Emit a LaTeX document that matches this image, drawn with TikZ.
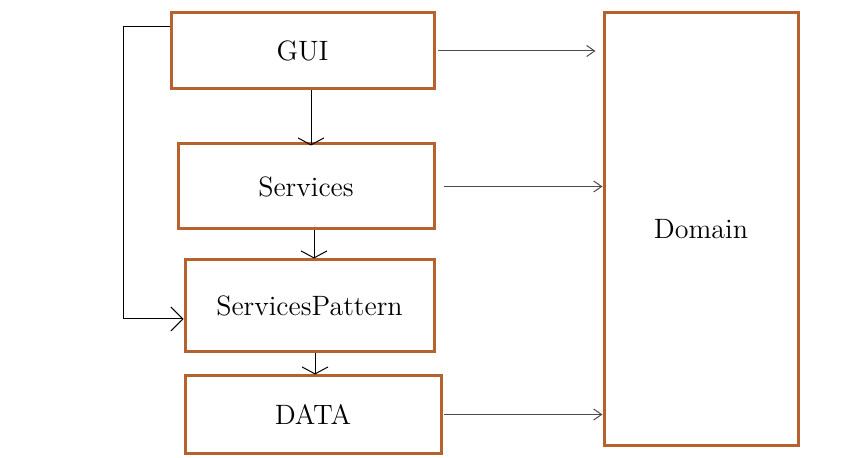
\documentclass[tikz,border=0pt]{standalone}
\usetikzlibrary{arrows.meta}
\definecolor{boxbrown}{RGB}{181,98,46}
\tikzset{
	layer/.style={draw=boxbrown,line width=1.5pt,inner sep=0pt,font=\fontsize{14}{17}\selectfont},
	toright/.style={draw=black!70,line width=0.5pt,-{Straight Barb[length=4pt,width=5.5pt]}},
	todown/.style={draw=black,line width=0.5pt,-{Straight Barb[length=3.5pt,width=13pt]}},
	toloop/.style={draw=black,line width=0.5pt,-{Straight Barb[length=6pt,width=12pt]}}
}
\begin{document}
\begin{tikzpicture}[x=0.5pt,y=-0.5pt]
				\useasboundingbox (0,0) rectangle (866,458);
				\node[layer,minimum width=131.5pt,minimum height=38pt] (gui) at (302.5,51) {GUI};
				\node[layer,minimum width=128pt,minimum height=42.5pt] (services) at (306,186.5) {Services};
				\node[layer,minimum width=124.5pt,minimum height=46pt] (pattern) at (309.5,306) {ServicesPattern};
				\node[layer,minimum width=128pt,minimum height=38.5pt] (data) at (313,414.5) {DATA};
				\node[layer,minimum width=97pt,minimum height=216pt] (domain) at (701,229) {Domain};
				% left side
				\draw[todown] ([xshift=4.25pt]gui.south) -- ([xshift=2.5pt,yshift=-1.5pt]services.north);
				\draw[todown] ([xshift=4pt]services.south) -- ([xshift=2.25pt]pattern.north);
				\draw[todown] ([xshift=2.75pt]pattern.south) -- ([xshift=1pt]data.north);
				\coordinate (loopx) at (123,0);
				\coordinate (guiloop) at ([yshift=12pt]gui.west);
				\coordinate (patloop) at ([yshift=-6.5pt]pattern.west);
				\draw[toloop] (guiloop) -- (loopx |- guiloop) |- (patloop);
				% to domain
				\draw[toright] ([xshift=1pt]gui.east) -- ([xshift=-3.5pt]domain.west |- gui.east);
				\draw[toright] ([xshift=4pt]services.east) -- (domain.west |- services.east);
				\draw[toright] ([xshift=0.5pt]data.east) -- (domain.west |- data.east);
\end{tikzpicture}
\end{document}
